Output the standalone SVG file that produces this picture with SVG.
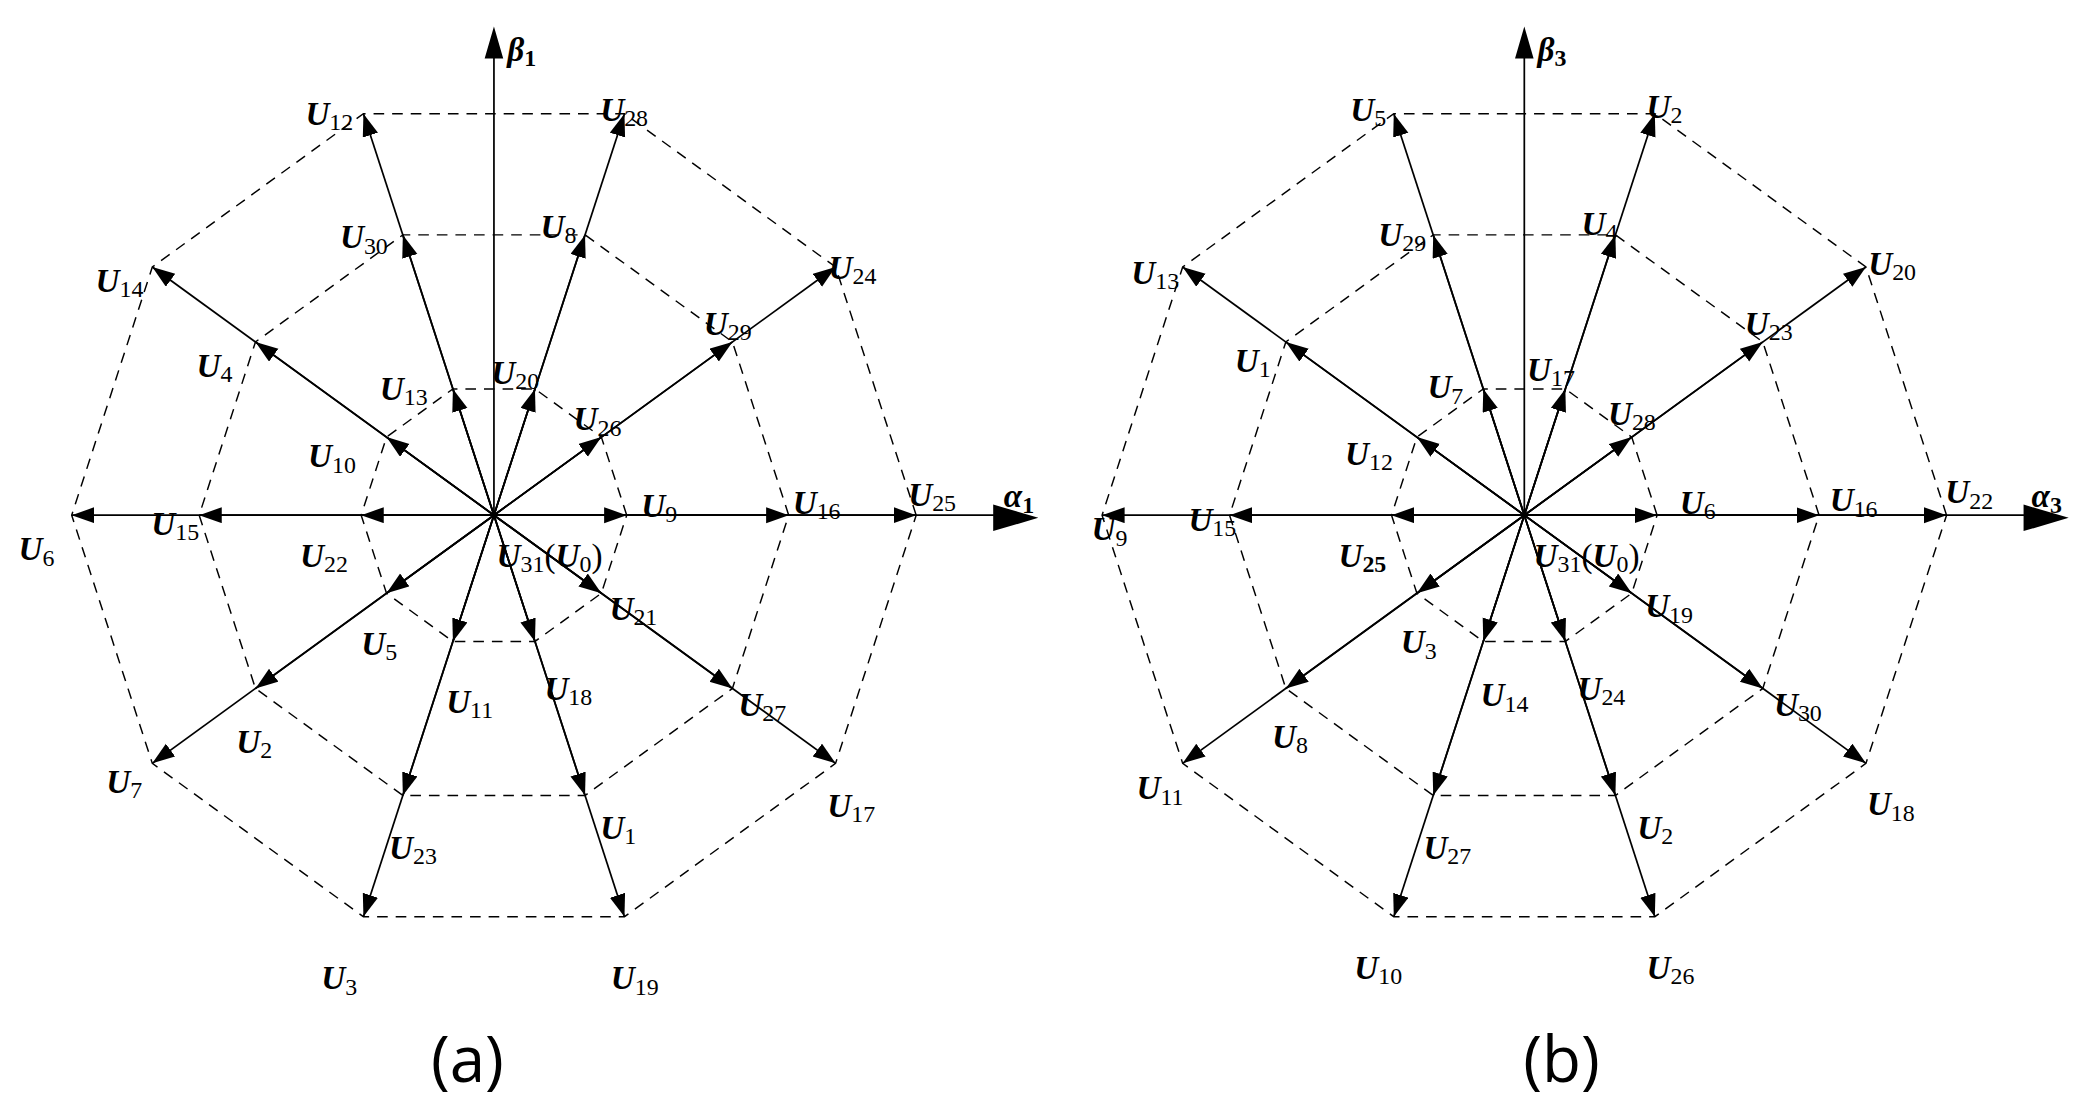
<svg xmlns="http://www.w3.org/2000/svg" xmlns:xlink="http://www.w3.org/1999/xlink" width="2082" height="1119" viewBox="0 0 2082 1119">
<style>
.v{stroke:#000;stroke-width:1.3;fill:none;marker-end:url(#ah)}
.d{stroke:#000;stroke-width:1.1;fill:none;stroke-dasharray:8 6}
.ax{stroke:#000;stroke-width:1.3}
text{font-family:"Liberation Serif",serif;fill:#000}
.l{font-size:25px;font-weight:bold;font-style:italic}
.l tspan{font-size:18px;font-weight:normal;font-style:normal}
.cap{font-family:"Open Sans","Liberation Sans",sans-serif;font-size:48px}
</style>
<defs>
<marker id="ah" markerUnits="userSpaceOnUse" markerWidth="18" markerHeight="14" refX="17" refY="6" orient="auto"><path d="M0,0 L17,6 L0,12 Z" fill="#000"/></marker>
<g id="star">
<g id="connectors">
<polygon class="d" points="690,388 629.3,201.1 470.3,85.6 273.7,85.6 114.7,201.1 54,388 114.7,574.9 273.7,690.4 470.3,690.4 629.3,574.9"/>
<polygon class="d" points="594,388 551.6,257.5 440.6,176.9 303.4,176.9 192.4,257.5 150,388 192.4,518.5 303.4,599.1 440.6,599.1 551.6,518.5"/>
<polygon class="d" points="472,388 452.9,329.2 402.9,292.9 341.1,292.9 291.1,329.2 272,388 291.1,446.8 341.1,483.1 402.9,483.1 452.9,446.8"/>
<path class="ax" d="M372,388 V40 M372,388 H752"/>
<path d="M372,20 L365,44 L379,44 Z M782,390 L748,380 L748,400 Z" fill="#000"/>
<g>
<line class="v" x1="372" y1="388" x2="690" y2="388"/>
<line class="v" x1="372" y1="388" x2="629.3" y2="201.1"/>
<line class="v" x1="372" y1="388" x2="470.3" y2="85.6"/>
<line class="v" x1="372" y1="388" x2="273.7" y2="85.6"/>
<line class="v" x1="372" y1="388" x2="114.7" y2="201.1"/>
<line class="v" x1="372" y1="388" x2="54" y2="388"/>
<line class="v" x1="372" y1="388" x2="114.7" y2="574.9"/>
<line class="v" x1="372" y1="388" x2="273.7" y2="690.4"/>
<line class="v" x1="372" y1="388" x2="470.3" y2="690.4"/>
<line class="v" x1="372" y1="388" x2="629.3" y2="574.9"/>
<line class="v" x1="372" y1="388" x2="594" y2="388"/>
<line class="v" x1="372" y1="388" x2="551.6" y2="257.5"/>
<line class="v" x1="372" y1="388" x2="440.6" y2="176.9"/>
<line class="v" x1="372" y1="388" x2="303.4" y2="176.9"/>
<line class="v" x1="372" y1="388" x2="192.4" y2="257.5"/>
<line class="v" x1="372" y1="388" x2="150" y2="388"/>
<line class="v" x1="372" y1="388" x2="192.4" y2="518.5"/>
<line class="v" x1="372" y1="388" x2="303.4" y2="599.1"/>
<line class="v" x1="372" y1="388" x2="440.6" y2="599.1"/>
<line class="v" x1="372" y1="388" x2="551.6" y2="518.5"/>
<line class="v" x1="372" y1="388" x2="472" y2="388"/>
<line class="v" x1="372" y1="388" x2="452.9" y2="329.2"/>
<line class="v" x1="372" y1="388" x2="402.9" y2="292.9"/>
<line class="v" x1="372" y1="388" x2="341.1" y2="292.9"/>
<line class="v" x1="372" y1="388" x2="291.1" y2="329.2"/>
<line class="v" x1="372" y1="388" x2="272" y2="388"/>
<line class="v" x1="372" y1="388" x2="291.1" y2="446.8"/>
<line class="v" x1="372" y1="388" x2="341.1" y2="483.1"/>
<line class="v" x1="372" y1="388" x2="402.9" y2="483.1"/>
<line class="v" x1="372" y1="388" x2="452.9" y2="446.8"/>
</g>
</g>
</g>
</defs>
<rect width="2082" height="1119" fill="#fff"/>
<g transform="scale(1.3278)">
<g id="panel-a">
<use xlink:href="#star"/>
<text class="l" x="382" y="46">β<tspan dy="4" style="font-weight:bold">1</tspan></text>
<text class="l" x="756" y="382">α<tspan dy="4" style="font-weight:bold">1</tspan></text>
<text class="l" x="230" y="94">U<tspan dy="4">12</tspan></text>
<text class="l" x="452" y="91">U<tspan dy="4">28</tspan></text>
<text class="l" x="256" y="187">U<tspan dy="4">30</tspan></text>
<text class="l" x="407" y="179">U<tspan dy="4">8</tspan></text>
<text class="l" x="72" y="220">U<tspan dy="4">14</tspan></text>
<text class="l" x="624" y="210">U<tspan dy="4">24</tspan></text>
<text class="l" x="530" y="252">U<tspan dy="4">29</tspan></text>
<text class="l" x="148" y="284">U<tspan dy="4">4</tspan></text>
<text class="l" x="286" y="301">U<tspan dy="4">13</tspan></text>
<text class="l" x="370" y="289">U<tspan dy="4">20</tspan></text>
<text class="l" x="432" y="324">U<tspan dy="4">26</tspan></text>
<text class="l" x="232" y="352">U<tspan dy="4">10</tspan></text>
<text class="l" x="483" y="389">U<tspan dy="4">9</tspan></text>
<text class="l" x="597" y="387">U<tspan dy="4">16</tspan></text>
<text class="l" x="684" y="381">U<tspan dy="4">25</tspan></text>
<text class="l" x="14" y="422">U<tspan dy="4">6</tspan></text>
<text class="l" x="114" y="403">U<tspan dy="4">15</tspan></text>
<text class="l" x="226" y="427">U<tspan dy="4">22</tspan></text>
<text class="l" x="374" y="427">U<tspan dy="4">31</tspan><tspan dy="-4" style="font-size:25px">(</tspan><tspan style="font-size:25px;font-weight:bold;font-style:italic">U</tspan><tspan dy="4">0</tspan><tspan dy="-4" style="font-size:25px">)</tspan></text>
<text class="l" x="459" y="467">U<tspan dy="4">21</tspan></text>
<text class="l" x="272" y="493">U<tspan dy="4">5</tspan></text>
<text class="l" x="336" y="537">U<tspan dy="4">11</tspan></text>
<text class="l" x="410" y="527">U<tspan dy="4">18</tspan></text>
<text class="l" x="556" y="539">U<tspan dy="4">27</tspan></text>
<text class="l" x="178" y="567">U<tspan dy="4">2</tspan></text>
<text class="l" x="80" y="597">U<tspan dy="4">7</tspan></text>
<text class="l" x="293" y="647">U<tspan dy="4">23</tspan></text>
<text class="l" x="452" y="632">U<tspan dy="4">1</tspan></text>
<text class="l" x="623" y="615">U<tspan dy="4">17</tspan></text>
<text class="l" x="242" y="745">U<tspan dy="4">3</tspan></text>
<text class="l" x="460" y="745">U<tspan dy="4">19</tspan></text>
<text class="cap" x="352" y="815" text-anchor="middle">(a)</text>
</g>
<g id="panel-b">
<use xlink:href="#star" x="776"/>
<text class="l" x="1158" y="46">β<tspan dy="4" style="font-weight:bold">3</tspan></text>
<text class="l" x="1530" y="382">α<tspan dy="4" style="font-weight:bold">3</tspan></text>
<text class="l" x="1017" y="91">U<tspan dy="4">5</tspan></text>
<text class="l" x="1240" y="89">U<tspan dy="4">2</tspan></text>
<text class="l" x="1038" y="185">U<tspan dy="4">29</tspan></text>
<text class="l" x="1191" y="177">U<tspan dy="4">4</tspan></text>
<text class="l" x="852" y="214">U<tspan dy="4">13</tspan></text>
<text class="l" x="1407" y="207">U<tspan dy="4">20</tspan></text>
<text class="l" x="1314" y="252">U<tspan dy="4">23</tspan></text>
<text class="l" x="930" y="280">U<tspan dy="4">1</tspan></text>
<text class="l" x="1075" y="300">U<tspan dy="4">7</tspan></text>
<text class="l" x="1150" y="287">U<tspan dy="4">17</tspan></text>
<text class="l" x="1211" y="320">U<tspan dy="4">28</tspan></text>
<text class="l" x="1013" y="350">U<tspan dy="4">12</tspan></text>
<text class="l" x="822" y="407">U<tspan dy="4">9</tspan></text>
<text class="l" x="895" y="400">U<tspan dy="4">15</tspan></text>
<text class="l" x="1008" y="427">U<tspan dy="4" style="font-weight:bold">25</tspan></text>
<text class="l" x="1265" y="387">U<tspan dy="4">6</tspan></text>
<text class="l" x="1378" y="385">U<tspan dy="4">16</tspan></text>
<text class="l" x="1465" y="379">U<tspan dy="4">22</tspan></text>
<text class="l" x="1155" y="427">U<tspan dy="4">31</tspan><tspan dy="-4" style="font-size:25px">(</tspan><tspan style="font-size:25px;font-weight:bold;font-style:italic">U</tspan><tspan dy="4">0</tspan><tspan dy="-4" style="font-size:25px">)</tspan></text>
<text class="l" x="1239" y="465">U<tspan dy="4">19</tspan></text>
<text class="l" x="1055" y="492">U<tspan dy="4">3</tspan></text>
<text class="l" x="1115" y="532">U<tspan dy="4">14</tspan></text>
<text class="l" x="1188" y="527">U<tspan dy="4">24</tspan></text>
<text class="l" x="1336" y="539">U<tspan dy="4">30</tspan></text>
<text class="l" x="958" y="563">U<tspan dy="4">8</tspan></text>
<text class="l" x="856" y="602">U<tspan dy="4">11</tspan></text>
<text class="l" x="1072" y="647">U<tspan dy="4">27</tspan></text>
<text class="l" x="1233" y="632">U<tspan dy="4">2</tspan></text>
<text class="l" x="1406" y="614">U<tspan dy="4">18</tspan></text>
<text class="l" x="1020" y="737">U<tspan dy="4">10</tspan></text>
<text class="l" x="1240" y="737">U<tspan dy="4">26</tspan></text>
<text class="cap" x="1176" y="815" text-anchor="middle">(b)</text>
</g>
</g>
</svg>
